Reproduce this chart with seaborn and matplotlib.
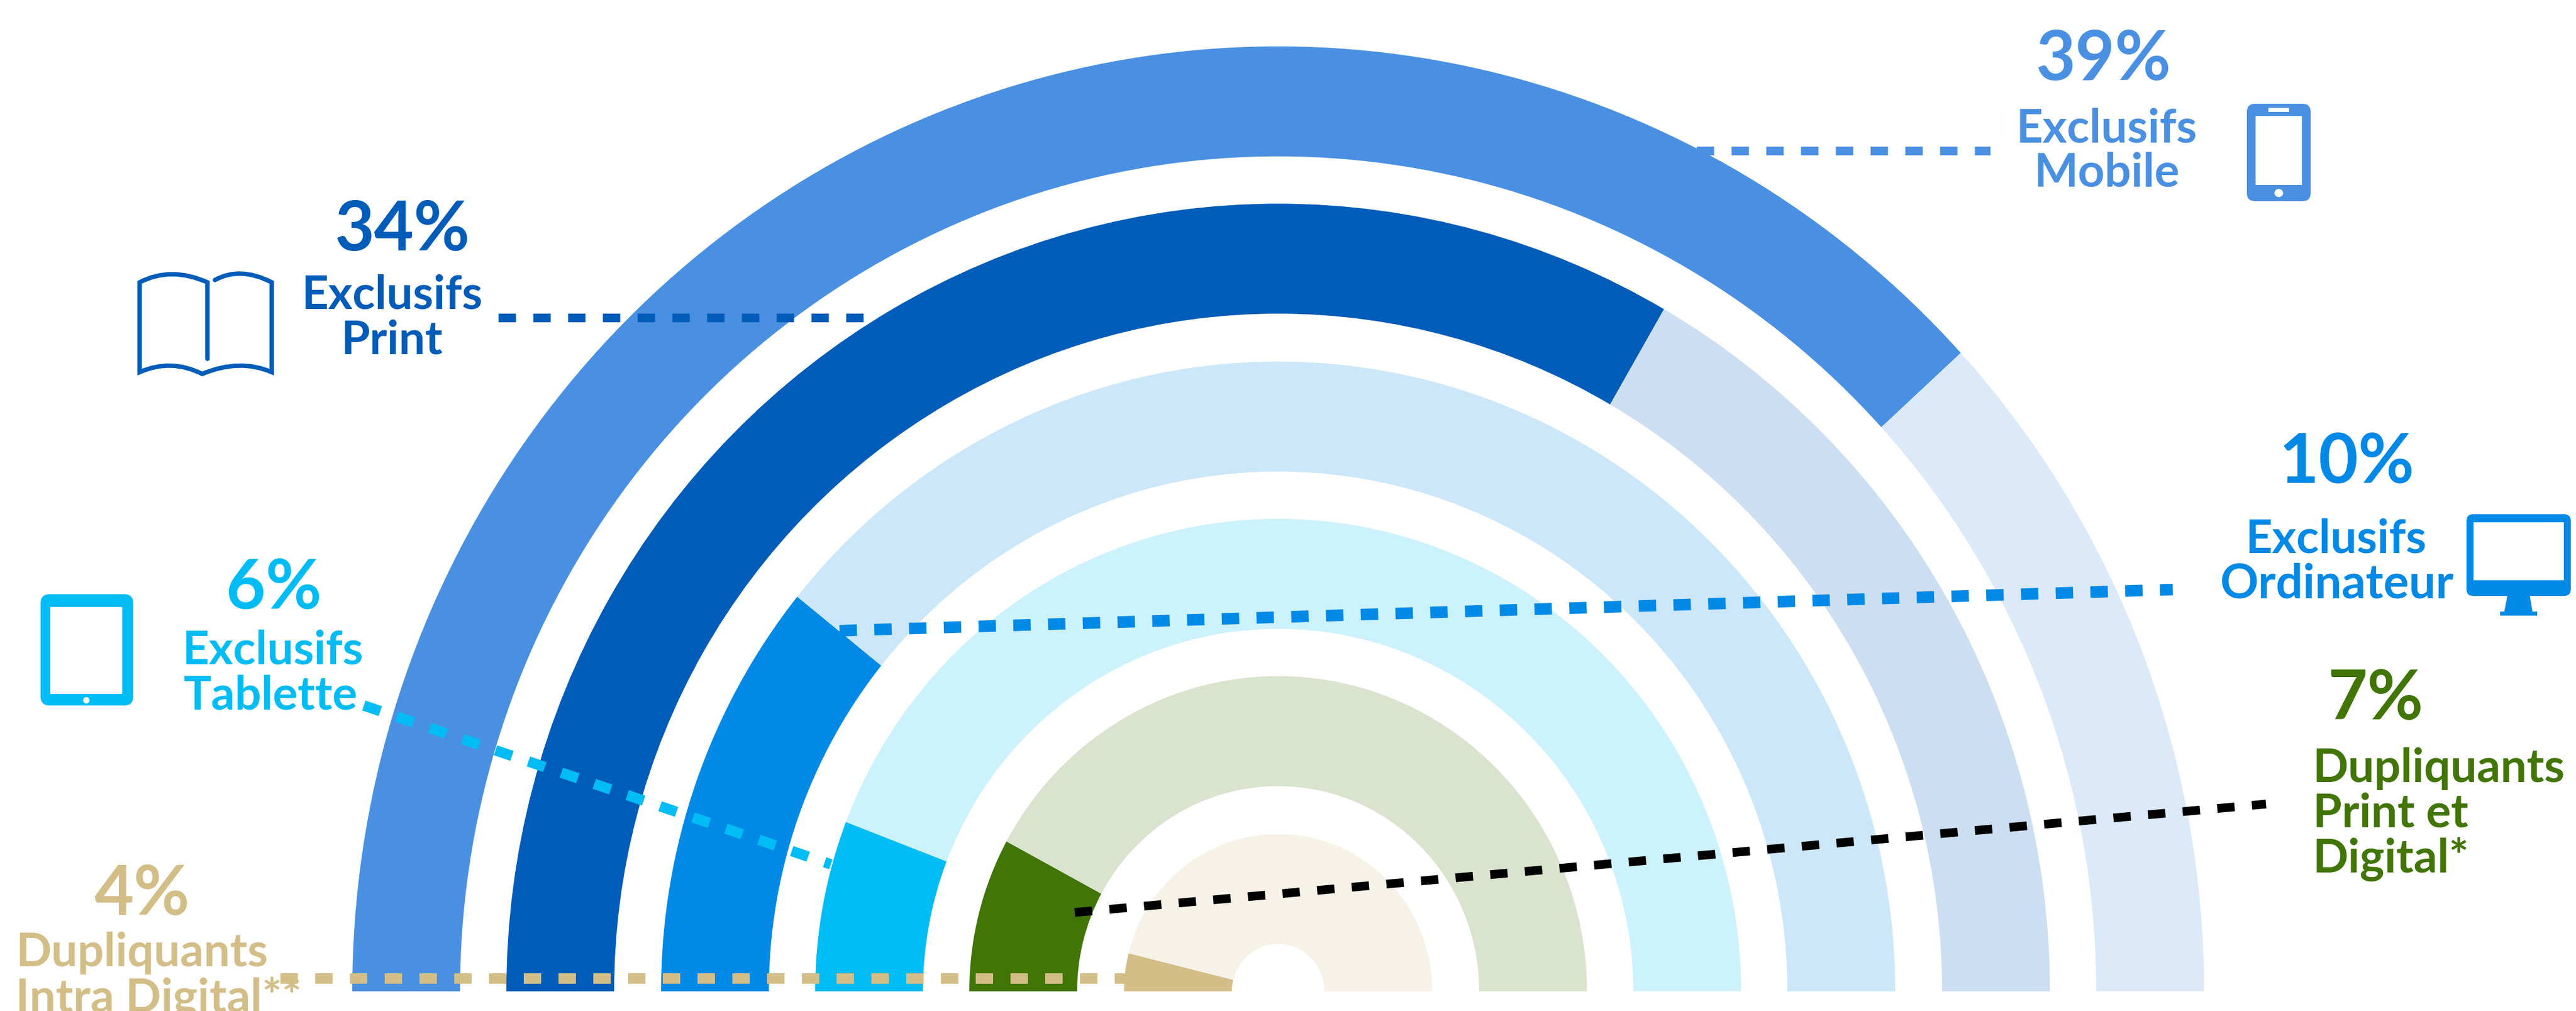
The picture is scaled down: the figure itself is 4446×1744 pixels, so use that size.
import matplotlib
matplotlib.use("Agg")
import matplotlib.pyplot as plt
from matplotlib.patches import Ellipse, FancyBboxPatch, PathPatch, Polygon, Rectangle
from matplotlib.path import Path
import seaborn as sns

# Data, outermost ring first
segments = ["Exclusifs Mobile", "Exclusifs Print", "Exclusifs Ordinateur",
            "Exclusifs Tablette", "Dupliquants Print et Digital*", "Dupliquants Intra Digital**"]
percents = [39, 34, 10, 6, 7, 4]
# how far each dark arc runs, in degrees of the half circle
arc_degrees = [137.5, 120, 38.8, 21, 28.4, 14]
dark_colors = ["#4A90E2", "#005CB9", "#0089E6", "#00BCF5", "#417505", "#D4BE87"]
pale_colors = ["#DBE9F9", "#CCDEF1", "#CCE7FA", "#CCF2FD", "#D9E3CD", "#F6F2E7"]

W, H = 4446, 1744
CX, BASE_Y = 2206, 1710
Y_STRETCH = 1.02
outer_radii = [1598, 1332, 1065, 799, 533, 266]
inner_radii = [1412, 1146, 879, 613, 347, 80]

sns.set_theme(style="white")
plt.rcParams["font.family"] = ["Lato", "DejaVu Sans"]
plt.rcParams["lines.scale_dashes"] = False

fig = plt.figure(figsize=(W / 100, H / 100), dpi=100)

# Rings
ax = fig.add_axes([0, 0, 1, 1])
for i in range(len(segments)):
    arc = arc_degrees[i]
    ax.pie([arc, 180 - arc, 180],
           colors=[dark_colors[i], pale_colors[i], "none"],
           radius=outer_radii[i],
           center=(CX, (H - BASE_Y) / Y_STRETCH),
           startangle=180, counterclock=False,
           wedgeprops={"width": outer_radii[i] - inner_radii[i], "linewidth": 0})
ax.set_aspect("auto")
ax.set_xlim(0, W)
ax.set_ylim(0, H / Y_STRETCH)
ax.axis("off")

# Everything else sits on a pixel overlay
over = fig.add_axes([0, 0, 1, 1])
over.patch.set_alpha(0)

# Dashed leaders: x pair, y pair, colour, width in px
leaders = [
    ([2928, 3435], [260, 260], dark_colors[0], 15),
    ([860, 1494], [548, 548], dark_colors[1], 15),
    ([1449, 3750], [1088, 1017], dark_colors[2], 20),
    ([628, 1434], [1217, 1491], dark_colors[3], 18),
    ([1855, 3911], [1574, 1387], "#000000", 15),
    ([484, 1980], [1688, 1688], dark_colors[5], 18),
]
for xs, ys, color, lw in leaders:
    sns.lineplot(x=xs, y=ys, color=color, linewidth=lw * 0.72,
                 linestyle=(0, (21.6, 21.6)), estimator=None, sort=False, ax=over)
over.set_xlim(0, W)
over.set_ylim(H, 0)
over.axis("off")

# Labels: text, x, baseline y, size, alignment, colour
labels = [
    ("39%", 3630, 138, 85, "center", dark_colors[0]),
    ("Exclusifs", 3636, 245, 58, "center", dark_colors[0]),
    ("Mobile", 3636, 322, 58, "center", dark_colors[0]),
    ("34%", 694, 432, 85, "center", dark_colors[1]),
    ("Exclusifs", 677, 532, 58, "center", dark_colors[1]),
    ("Print", 676, 610, 58, "center", dark_colors[1]),
    ("6%", 473, 1050, 85, "center", dark_colors[3]),
    ("Exclusifs", 471, 1145, 58, "center", dark_colors[3]),
    ("Tablette", 467, 1223, 58, "center", dark_colors[3]),
    ("10%", 4050, 833, 85, "center", dark_colors[2]),
    ("Exclusifs", 4032, 953, 58, "center", dark_colors[2]),
    ("Ordinateur", 4034, 1031, 59, "center", dark_colors[2]),
    ("7%", 4100, 1241, 85, "center", dark_colors[4]),
    ("Dupliquants", 3992, 1349, 58, "left", dark_colors[4]),
    ("Print et", 3992, 1426, 58, "left", dark_colors[4]),
    ("Digital*", 3992, 1504, 58, "left", dark_colors[4]),
    ("4%", 245, 1578, 85, "center", dark_colors[5]),
    ("Dupliquants", 27, 1667, 58, "left", dark_colors[5]),
    ("Intra Digital**", 27, 1745, 58, "left", dark_colors[5]),
]
for text, x, y, size, ha, color in labels:
    over.text(x, y, text, fontsize=size, fontweight="bold", color=color,
              ha=ha, va="baseline", clip_on=False)


def device(x0, y0, x1, y1, corner, color):
    over.add_patch(FancyBboxPatch((x0, y0), x1 - x0, y1 - y0,
                                  boxstyle=f"round,pad=0,rounding_size={corner}",
                                  facecolor=color, edgecolor=color, linewidth=0))


# Phone
c = dark_colors[0]
device(3878, 179, 3988, 347, 14, c)
over.add_patch(Rectangle((3893, 200), 80, 119, facecolor="white", linewidth=0))
over.add_patch(Rectangle((3915, 186), 36, 7, facecolor="white", linewidth=0))
over.add_patch(Ellipse((3933, 333), 15, 14, facecolor="white", linewidth=0))

# Tablet
c = dark_colors[3]
device(70, 1025, 230, 1217, 16, c)
over.add_patch(Rectangle((87, 1047), 124, 150, facecolor="white", linewidth=0))
over.add_patch(Ellipse((149, 1208), 11, 11, facecolor="white", linewidth=0))

# Monitor
c = dark_colors[2]
device(4257, 887, 4437, 1028, 12, c)
over.add_patch(Rectangle((4269, 901), 156, 100, facecolor="white", linewidth=0))
over.add_patch(Polygon([(4328, 1026), (4366, 1026), (4371, 1056), (4322, 1056)],
                       facecolor=c, linewidth=0))
over.add_patch(Rectangle((4315, 1055), 64, 7, facecolor=c, linewidth=0))

# Book outline
book_verts = [
    (358, 619), (358, 487), (295, 459), (241, 487),
    (241, 642), (295, 618), (349, 645), (414, 618), (469, 642),
    (469, 487), (414, 459), (371, 483),
]
book_codes = [
    Path.MOVETO, Path.LINETO, Path.CURVE3, Path.CURVE3,
    Path.LINETO, Path.CURVE3, Path.CURVE3, Path.CURVE3, Path.CURVE3,
    Path.LINETO, Path.CURVE3, Path.CURVE3,
]
over.add_patch(PathPatch(Path(book_verts, book_codes), facecolor="none",
                         edgecolor=dark_colors[1], linewidth=5.5, capstyle="round"))

fig.savefig("out.png", dpi=100)
